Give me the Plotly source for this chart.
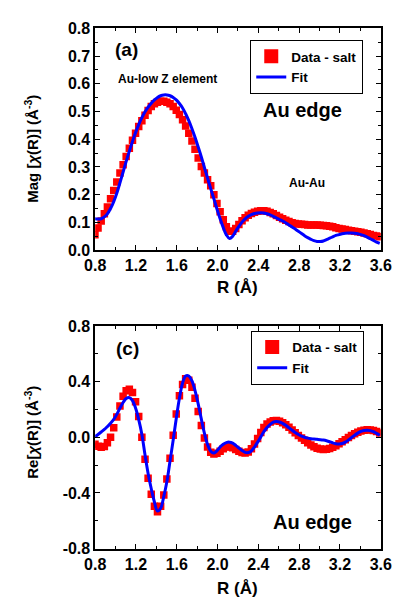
import plotly.graph_objects as go

# ---------------- data ----------------
r_grid = [0.798, 0.828, 0.859, 0.890, 0.920, 0.951, 0.982, 1.012, 1.043, 1.074,
          1.104, 1.135, 1.166, 1.196, 1.227, 1.258, 1.289, 1.319, 1.350, 1.381,
          1.411, 1.442, 1.473, 1.503, 1.534, 1.565, 1.595, 1.626, 1.657, 1.687,
          1.718, 1.749, 1.779, 1.810, 1.841, 1.871, 1.902, 1.933, 1.964, 1.994,
          2.025, 2.056, 2.086, 2.117, 2.148, 2.178, 2.209, 2.240, 2.270, 2.301,
          2.332, 2.362, 2.393, 2.424, 2.454, 2.485, 2.516, 2.546, 2.577, 2.608,
          2.638, 2.669, 2.700, 2.731, 2.761, 2.792, 2.823, 2.853, 2.884, 2.915,
          2.945, 2.976, 3.007, 3.037, 3.068, 3.099, 3.129, 3.160, 3.191, 3.221,
          3.252, 3.283, 3.313, 3.344, 3.375, 3.405, 3.436, 3.467, 3.497, 3.528,
          3.559, 3.590]

mag_data = [0.055, 0.080, 0.105, 0.131, 0.156, 0.185, 0.215, 0.246, 0.278, 0.308,
            0.338, 0.368, 0.396, 0.422, 0.446, 0.467, 0.487, 0.504, 0.518, 0.528,
            0.534, 0.537, 0.537, 0.534, 0.528, 0.518, 0.505, 0.489, 0.470, 0.448,
            0.422, 0.394, 0.364, 0.332, 0.302, 0.278, 0.254, 0.232, 0.200, 0.168,
            0.138, 0.110, 0.084, 0.068, 0.068, 0.078, 0.092, 0.106, 0.117, 0.126,
            0.132, 0.137, 0.140, 0.142, 0.142, 0.140, 0.136, 0.131, 0.125, 0.119,
            0.113, 0.108, 0.103, 0.099, 0.096, 0.094, 0.093, 0.092, 0.091, 0.091,
            0.091, 0.091, 0.090, 0.089, 0.088, 0.086, 0.084, 0.081, 0.078, 0.076,
            0.074, 0.072, 0.070, 0.068, 0.066, 0.064, 0.062, 0.059, 0.056, 0.053,
            0.051, 0.048]

mag_fit = [0.113, 0.112, 0.113, 0.120, 0.131, 0.150, 0.175, 0.205, 0.243, 0.282,
           0.320, 0.357, 0.392, 0.424, 0.453, 0.478, 0.499, 0.516, 0.530, 0.542,
           0.551, 0.557, 0.560, 0.560, 0.557, 0.551, 0.542, 0.529, 0.513, 0.492,
           0.467, 0.438, 0.407, 0.372, 0.336, 0.298, 0.260, 0.222, 0.185, 0.148,
           0.113, 0.081, 0.055, 0.042, 0.050, 0.068, 0.086, 0.101, 0.113, 0.122,
           0.128, 0.132, 0.134, 0.135, 0.134, 0.131, 0.127, 0.122, 0.116, 0.110,
           0.105, 0.098, 0.091, 0.083, 0.076, 0.068, 0.060, 0.052, 0.045, 0.039,
           0.034, 0.031, 0.031, 0.033, 0.038, 0.043, 0.048, 0.053, 0.056, 0.059,
           0.061, 0.062, 0.062, 0.061, 0.059, 0.056, 0.052, 0.047, 0.041, 0.035,
           0.029, 0.024]

re_data = [-0.050, -0.065, -0.072, -0.066, -0.040, 0.000, 0.068, 0.145, 0.225, 0.295,
           0.335, 0.345, 0.322, 0.255, 0.150, 0.000, -0.158, -0.295, -0.410, -0.495,
           -0.535, -0.495, -0.415, -0.300, -0.150, 0.015, 0.168, 0.298, 0.380, 0.420,
           0.410, 0.360, 0.280, 0.185, 0.085, -0.005, -0.070, -0.108, -0.120, -0.115,
           -0.100, -0.082, -0.070, -0.068, -0.075, -0.088, -0.100, -0.110, -0.113, -0.105,
           -0.082, -0.048, -0.008, 0.035, 0.070, 0.095, 0.110, 0.118, 0.120, 0.116,
           0.105, 0.090, 0.072, 0.052, 0.032, 0.013, -0.005, -0.022, -0.040, -0.055,
           -0.068, -0.078, -0.084, -0.087, -0.086, -0.080, -0.071, -0.060, -0.047, -0.032,
           -0.017, -0.002, 0.013, 0.026, 0.037, 0.045, 0.051, 0.054, 0.053, 0.049,
           0.041, 0.030]

re_fit = [0.005, 0.020, 0.038, 0.056, 0.077, 0.100, 0.128, 0.165, 0.210, 0.250,
          0.278, 0.285, 0.264, 0.210, 0.127, 0.020, -0.128, -0.260, -0.370, -0.465,
          -0.530, -0.510, -0.425, -0.320, -0.170, -0.020, 0.135, 0.280, 0.390, 0.440,
          0.440, 0.405, 0.335, 0.240, 0.130, 0.030, -0.052, -0.100, -0.113, -0.097,
          -0.070, -0.050, -0.038, -0.035, -0.042, -0.058, -0.077, -0.095, -0.108, -0.110,
          -0.097, -0.070, -0.035, 0.003, 0.040, 0.070, 0.093, 0.108, 0.113, 0.110,
          0.100, 0.086, 0.068, 0.050, 0.034, 0.020, 0.008, 0.000, -0.006, -0.010,
          -0.013, -0.015, -0.017, -0.020, -0.025, -0.032, -0.040, -0.046, -0.048, -0.045,
          -0.035, -0.020, -0.003, 0.015, 0.030, 0.042, 0.049, 0.051, 0.048, 0.040,
          0.028, 0.015]

x_ticks = [0.8, 1.2, 1.6, 2.0, 2.4, 2.8, 3.2, 3.6]
x_ticklabels = ["0.8", "1.2", "1.6", "2.0", "2.4", "2.8", "3.2", "3.6"]
y1_ticks = [0.0, 0.1, 0.2, 0.3, 0.4, 0.5, 0.6, 0.7, 0.8]
y1_ticklabels = ["0.0", "0.1", "0.2", "0.3", "0.4", "0.5", "0.6", "0.7", "0.8"]
y2_ticks = [-0.8, -0.4, 0.0, 0.4, 0.8]
y2_ticklabels = ["-0.8", "-0.4", "0.0", "0.4", "0.8"]

# ---------------- styling ----------------
W, H = 405, 614
FONT = "Liberation Sans, Arial, sans-serif"
RED = "#ff0000"
BLUE = "#0000ff"

def px_x(p):
    return p / W

def px_y(p):
    return 1 - p / H

fig = go.Figure()

# top panel
fig.add_trace(go.Scatter(x=r_grid, y=mag_data, mode="markers",
                         marker=dict(symbol="square", size=7.5, color=RED, line=dict(width=0)),
                         xaxis="x", yaxis="y", showlegend=False))
fig.add_trace(go.Scatter(x=r_grid, y=mag_fit, mode="lines", line=dict(color=BLUE, width=3, shape="spline"),
                         xaxis="x", yaxis="y", showlegend=False))
# bottom panel
fig.add_trace(go.Scatter(x=r_grid, y=re_data, mode="markers",
                         marker=dict(symbol="square", size=7.5, color=RED, line=dict(width=0)),
                         xaxis="x2", yaxis="y2", showlegend=False))
fig.add_trace(go.Scatter(x=r_grid, y=re_fit, mode="lines", line=dict(color=BLUE, width=3, shape="spline"),
                         xaxis="x2", yaxis="y2", showlegend=False))

# legend entries
for lg in ["legend", "legend2"]:
    fig.add_trace(go.Scatter(x=[None], y=[None], mode="markers", name="Data - salt",
                             marker=dict(symbol="square", size=14, color=RED),
                             legend=lg, xaxis="x" if lg == "legend" else "x2",
                             yaxis="y" if lg == "legend" else "y2"))
    fig.add_trace(go.Scatter(x=[None], y=[None], mode="lines", name="Fit",
                             line=dict(color=BLUE, width=3),
                             legend=lg, xaxis="x" if lg == "legend" else "x2",
                             yaxis="y" if lg == "legend" else "y2"))

tickfont = dict(family=FONT, size=16, color="black", weight="bold")
axis_common = dict(showline=True, linecolor="black", linewidth=1.5, mirror="allticks",
                   ticks="inside", ticklen=5, tickwidth=1.3, tickcolor="black",
                   showgrid=False, zeroline=False, tickfont=tickfont)

xdom = [px_x(89), px_x(391)]
fig.update_layout(
    width=W, height=H, margin=dict(l=0, r=0, t=0, b=0),
    paper_bgcolor="white", plot_bgcolor="white",
    xaxis=dict(domain=xdom, range=[0.8, 3.6], anchor="y", tickvals=x_ticks, ticktext=x_ticklabels,
               minor=dict(ticks="inside", dtick=0.2, tick0=0.8, ticklen=3, tickwidth=1.2, tickcolor="black"),
               **axis_common),
    yaxis=dict(domain=[px_y(249), px_y(21)], range=[0, 0.8], anchor="x", tickvals=y1_ticks,
               ticktext=y1_ticklabels,
               minor=dict(ticks="inside", dtick=0.05, tick0=0, ticklen=3, tickwidth=1.2, tickcolor="black"),
               **axis_common),
    xaxis2=dict(domain=xdom, range=[0.8, 3.6], anchor="y2", tickvals=x_ticks, ticktext=x_ticklabels,
                minor=dict(ticks="inside", dtick=0.2, tick0=0.8, ticklen=3, tickwidth=1.2, tickcolor="black"),
                **axis_common),
    yaxis2=dict(domain=[px_y(556), px_y(327)], range=[-0.8, 0.8], anchor="x2", tickvals=y2_ticks,
                ticktext=y2_ticklabels,
                minor=dict(ticks="inside", dtick=0.2, tick0=0, ticklen=3, tickwidth=1.2, tickcolor="black"),
                **axis_common),
    legend=dict(x=px_x(253), y=px_y(33), xanchor="left", yanchor="top", bgcolor="white",
                bordercolor="black", borderwidth=1, tracegroupgap=0,
                font=dict(family=FONT, size=13.5, color="black", weight="bold")),
    legend2=dict(x=px_x(254), y=px_y(332), xanchor="left", yanchor="top", bgcolor="white",
                 bordercolor="black", borderwidth=1, tracegroupgap=0,
                 font=dict(family=FONT, size=13.5, color="black", weight="bold")),
)

def note(text, x, y, size, xanchor="center", angle=0):
    fig.add_annotation(text=text, x=px_x(x), y=px_y(y), xref="paper", yref="paper",
                       xanchor=xanchor, yanchor="middle", showarrow=False, textangle=angle,
                       font=dict(family=FONT, size=size, color="black", weight="bold"))

note("(a)", 122, 43, 19)
note("Au-low Z element", 166, 73, 12)
note("Au edge", 308, 105, 20)
note("Au-Au", 313, 180, 12)
note("R (Å)", 240, 287, 17)
note("Mag [<i>χ</i>(R)] (Å<sup>-3</sup>)", 22, 145, 15, angle=-90)

note("(c)", 123, 350, 19)
note("Au edge", 319, 529, 20)
note("R (Å)", 240, 597, 17)
note("Re[<i>χ</i>(R)] (Å<sup>-3</sup>)", 22, 436, 15, angle=-90)

fig.write_html("out.html")
